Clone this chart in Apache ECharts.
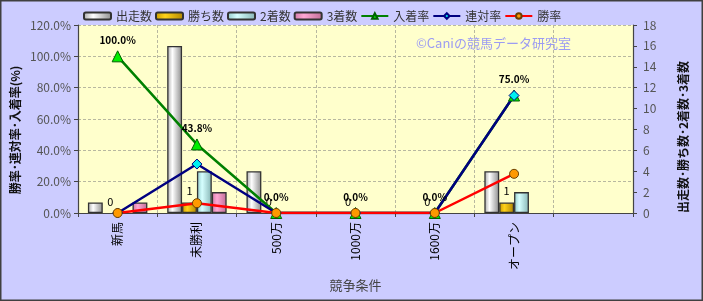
<!DOCTYPE html>
<html><head><meta charset="utf-8">
<script src="https://cdn.jsdelivr.net/npm/echarts@6/dist/echarts.min.js"></script>
<style>html,body{margin:0;padding:0;background:#ccccff;}#c{width:703px;height:301px;}</style>
</head><body><div id="c"></div>
<script>
const categories = ['新馬','未勝利','500万','1000万','1600万','オープン',''];
const runners = [1,16,4,0,0,4,null];
const wins = [0,1,0,0,0,1,null];
const seconds = [0,4,0,0,0,2,null];
const thirds = [1,2,0,0,0,0,null];
const placeRate = [100,43.75,0,0,0,75,null];
const rentaiRate = [0,31.25,0,0,0,75,null];
const winRate = [0,6.25,0,0,0,25,null];
const leftTicks = [0,20,40,60,80,100,120];
const rightTicks = [0,2,4,6,8,10,12,14,16,18];

const FONT = '"Noto Sans CJK JP","Noto Sans",sans-serif';
function grad(a,b,c){return {type:'linear',x:0,y:0,x2:1,y2:0,colorStops:[{offset:0,color:a},{offset:0.35,color:b},{offset:1,color:c}]};}
function barData(arr){return arr.map(v=>v===0?{value:0,itemStyle:{borderWidth:0}}:v);}
const barBorder = {borderColor:'#333',borderWidth:1.3};
const chart = echarts.init(document.getElementById('c'));
chart.setOption({
  backgroundColor:'#ccccff',
  textStyle:{fontFamily:FONT},
  animation:false,
  legend:{
    left:78, top:5, itemGap:3, itemWidth:27, itemHeight:7,
    textStyle:{fontFamily:FONT,fontSize:12,color:'#333'},
    data:['出走数','勝ち数','2着数','3着数','入着率','連対率','勝率']
  },
  grid:{left:78,right:70,top:25,bottom:88,show:true,backgroundColor:'#ffffcc',borderWidth:0,containLabel:false,outerBoundsMode:'none'},
  graphic:[
    {type:'text',left:416,top:37,style:{text:'©Caniの競馬データ研究室',fill:'#9c9cf2',font:'13px '+FONT}},
    {type:'text',x:15,y:130,rotation:Math.PI/2,style:{text:'勝率･連対率･入着率(%)',fill:'#111',font:'bold 12px '+FONT,align:'center',verticalAlign:'middle'}},
    {type:'text',x:683,y:137,rotation:Math.PI/2,style:{text:'出走数･勝ち数･2着数･3着数',fill:'#111',font:'bold 12px '+FONT,align:'center',verticalAlign:'middle'}},
    {type:'rect',shape:{x:0.75,y:0.75,width:701.5,height:299.5},style:{fill:'none',stroke:'#404040',lineWidth:1.5},silent:true}
  ],
  xAxis:{
    type:'category',data:categories,boundaryGap:true,
    axisLine:{lineStyle:{color:'#444',width:1.2}},
    axisTick:{show:true,length:4,lineStyle:{color:'#444'}},
    axisLabel:{rotate:90,fontSize:12,color:'#000',margin:9,interval:0},
    splitLine:{show:true,lineStyle:{color:'#b8b8a0',type:[3,2],width:1}},
    name:'競争条件',nameLocation:'middle',nameGap:66,
    nameTextStyle:{fontSize:13,color:'#444'}
  },
  yAxis:[
    {type:'value',min:leftTicks[0],max:leftTicks[leftTicks.length-1],interval:leftTicks[1]-leftTicks[0],
     axisLine:{show:true,lineStyle:{color:'#444',width:1.2}},
     axisTick:{show:true,length:4,lineStyle:{color:'#444'}},
     axisLabel:{formatter:v=>v.toFixed(1)+'%',fontSize:12,color:'#555',margin:7},
     splitLine:{show:true,lineStyle:{color:'#b8b8a0',type:[3,2],width:1}}
    },
    {type:'value',min:rightTicks[0],max:rightTicks[rightTicks.length-1],interval:rightTicks[1]-rightTicks[0],position:'right',
     axisLine:{show:true,lineStyle:{color:'#444',width:1.2}},
     axisTick:{show:true,length:4,lineStyle:{color:'#444'}},
     axisLabel:{fontSize:12,color:'#555',margin:10},
     splitLine:{show:false}
    }
  ],
  series:[
    {name:'出走数',type:'bar',yAxisIndex:1,data:barData(runners),barGap:'0%',barCategoryGap:'25%',
     itemStyle:Object.assign({color:grad('#a8a8a8','#ffffff','#8c8c8c')},barBorder)},
    {name:'勝ち数',type:'bar',yAxisIndex:1,data:barData(wins),barGap:'0%',barCategoryGap:'25%',
     itemStyle:Object.assign({color:grad('#c99a00','#ffd21a','#b08500')},barBorder),
     label:{show:true,position:'top',distance:6,fontSize:11,color:'#000'}},
    {name:'2着数',type:'bar',yAxisIndex:1,data:barData(seconds),barGap:'0%',barCategoryGap:'25%',
     itemStyle:Object.assign({color:grad('#90c8c8','#d6ffff','#86b4b4')},barBorder)},
    {name:'3着数',type:'bar',yAxisIndex:1,data:barData(thirds),barGap:'0%',barCategoryGap:'25%',
     itemStyle:Object.assign({color:grad('#d07aa6','#ffa8d4','#c06c96')},barBorder)},
    {name:'入着率',type:'line',yAxisIndex:0,data:placeRate,symbol:'triangle',symbolSize:11,
     lineStyle:{color:'#008000',width:2.5},itemStyle:{color:'#00ee00',borderColor:'#006000',borderWidth:1},
     label:{show:true,position:'top',distance:5,fontSize:10,fontWeight:'bold',color:'#000',formatter:p=>p.value.toFixed(1)+'%'}},
    {name:'連対率',type:'line',yAxisIndex:0,data:rentaiRate,symbol:'diamond',symbolSize:10,
     lineStyle:{color:'#000080',width:2.5},itemStyle:{color:'#00f0f0',borderColor:'#000080',borderWidth:1}},
    {name:'勝率',type:'line',yAxisIndex:0,data:winRate,symbol:'circle',symbolSize:9,
     lineStyle:{color:'#ff0000',width:2.5},itemStyle:{color:'#ff9900',borderColor:'#6b4000',borderWidth:1}}
  ]
});
</script></body></html>
